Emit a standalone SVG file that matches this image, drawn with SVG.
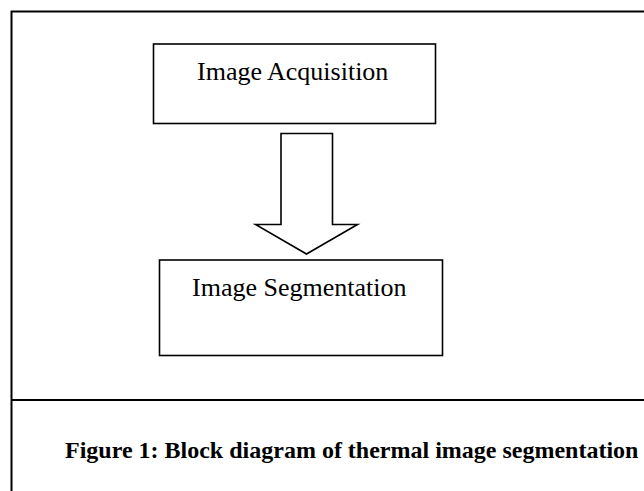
<svg xmlns="http://www.w3.org/2000/svg" width="644" height="491" viewBox="0 0 644 491">
  <style>
    .frame { fill: none; stroke: #000; stroke-width: 2; }
    .box { fill: #fff; stroke: #000; stroke-width: 1.6; }
    .lbl { font-family: "Liberation Serif", "Times New Roman", serif; font-size: 26px; fill: #000; }
    .cap { font-family: "Liberation Serif", "Times New Roman", serif; font-size: 24px; font-weight: bold; fill: #000; }
    .arrow { fill: #fff; stroke: #000; stroke-width: 1.6; stroke-linejoin: miter; }
  </style>
  <rect width="644" height="491" fill="#fff"/>
  <g id="frame">
    <rect class="frame" x="11.5" y="11.5" width="700" height="600"/>
    <line class="frame" x1="11.5" y1="400" x2="644" y2="400"/>
  </g>
  <g id="acquisition">
    <rect class="box" x="153.5" y="44" width="282" height="79.5"/>
    <text class="lbl" x="197" y="80">Image Acquisition</text>
  </g>
  <g id="segmentation">
    <rect class="box" x="159.5" y="260" width="283" height="95.5"/>
    <text class="lbl" x="192" y="296">Image Segmentation</text>
  </g>
  <g id="connectors">
    <polygon class="arrow" points="281,133.5 332.5,133.5 332.5,224.5 357.5,224.5 306.5,254 255.5,224.5 281,224.5"/>
  </g>
  <g id="caption">
    <text class="cap" x="65" y="458">Figure 1: Block diagram of thermal image segmentation</text>
  </g>
</svg>
